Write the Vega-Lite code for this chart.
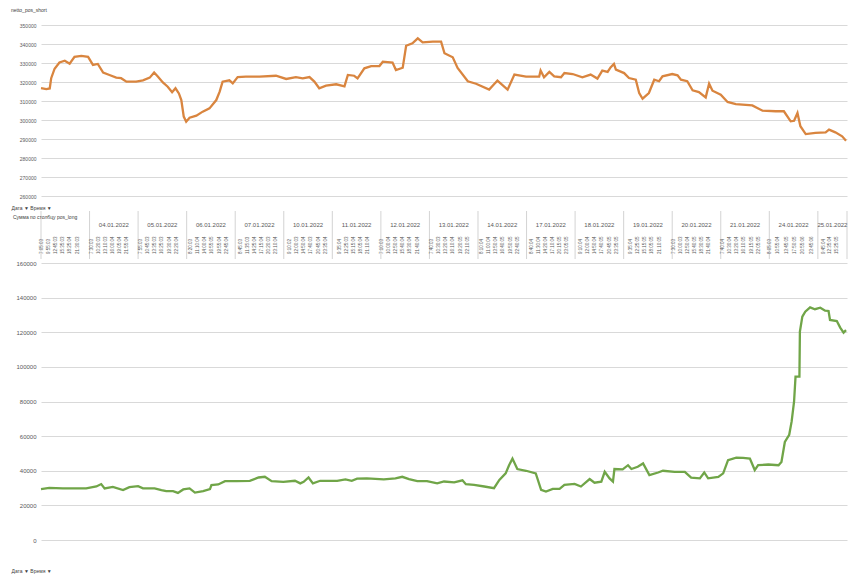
{
  "$schema": "https://vega.github.io/schema/vega-lite/v6.json",
  "background": "white",
  "padding": {"left": 11, "top": 8, "right": 0, "bottom": 0},
  "spacing": 0,
  "config": {
    "view": {"stroke": null},
    "font": "Liberation Sans",
    "axis": {"labelColor": "#595959", "gridColor": "#d9d9d9", "gridWidth": 1, "domain": false, "ticks": false, "labelFont": "Liberation Sans", "titleFont": "Liberation Sans", "titleColor": "#404040"},
    "title": {"font": "Liberation Sans", "fontWeight": "normal", "color": "#404040"}
  },
  "datasets": {
    "short": [
      {"t": 0.0, "v": 316800}, {"t": 0.11, "v": 316300}, {"t": 0.18, "v": 316600}, {"t": 0.21, "v": 322000},
      {"t": 0.28, "v": 327000}, {"t": 0.38, "v": 330300}, {"t": 0.49, "v": 331200}, {"t": 0.59, "v": 329600},
      {"t": 0.69, "v": 333200}, {"t": 0.83, "v": 333700}, {"t": 0.97, "v": 333200}, {"t": 1.07, "v": 329000},
      {"t": 1.17, "v": 329500}, {"t": 1.28, "v": 325000}, {"t": 1.41, "v": 323700}, {"t": 1.55, "v": 322300},
      {"t": 1.65, "v": 322000}, {"t": 1.76, "v": 320200}, {"t": 1.96, "v": 320200}, {"t": 2.10, "v": 320900},
      {"t": 2.24, "v": 322300}, {"t": 2.33, "v": 325000}, {"t": 2.41, "v": 322800}, {"t": 2.51, "v": 319800},
      {"t": 2.61, "v": 317500}, {"t": 2.70, "v": 314600}, {"t": 2.77, "v": 316700}, {"t": 2.84, "v": 314000},
      {"t": 2.89, "v": 310500}, {"t": 2.94, "v": 301800}, {"t": 2.99, "v": 299100}, {"t": 3.06, "v": 301200},
      {"t": 3.20, "v": 302300}, {"t": 3.33, "v": 304400}, {"t": 3.47, "v": 306100}, {"t": 3.61, "v": 310500},
      {"t": 3.68, "v": 314900}, {"t": 3.74, "v": 320200}, {"t": 3.88, "v": 320900}, {"t": 3.95, "v": 319300},
      {"t": 4.05, "v": 322600}, {"t": 4.22, "v": 322800}, {"t": 4.50, "v": 322800}, {"t": 4.84, "v": 323300},
      {"t": 5.05, "v": 321600}, {"t": 5.25, "v": 322600}, {"t": 5.39, "v": 321900}, {"t": 5.53, "v": 322600},
      {"t": 5.63, "v": 320200}, {"t": 5.73, "v": 316700}, {"t": 5.87, "v": 318100}, {"t": 6.08, "v": 318800},
      {"t": 6.25, "v": 317700}, {"t": 6.32, "v": 323700}, {"t": 6.45, "v": 323300}, {"t": 6.52, "v": 321900},
      {"t": 6.66, "v": 327200}, {"t": 6.80, "v": 328400}, {"t": 6.97, "v": 328400}, {"t": 7.04, "v": 330700},
      {"t": 7.24, "v": 330200}, {"t": 7.31, "v": 326300}, {"t": 7.45, "v": 327500}, {"t": 7.52, "v": 339100},
      {"t": 7.65, "v": 340400}, {"t": 7.76, "v": 343000}, {"t": 7.86, "v": 340900}, {"t": 8.07, "v": 341200},
      {"t": 8.24, "v": 341200}, {"t": 8.31, "v": 335100}, {"t": 8.48, "v": 333000}, {"t": 8.58, "v": 327400},
      {"t": 8.79, "v": 320400}, {"t": 8.96, "v": 319100}, {"t": 9.23, "v": 316000}, {"t": 9.34, "v": 319100},
      {"t": 9.40, "v": 320700}, {"t": 9.61, "v": 316000}, {"t": 9.75, "v": 323900}, {"t": 9.99, "v": 322800},
      {"t": 10.26, "v": 322800}, {"t": 10.29, "v": 326000}, {"t": 10.36, "v": 322500}, {"t": 10.47, "v": 325300},
      {"t": 10.57, "v": 323000}, {"t": 10.71, "v": 322500}, {"t": 10.78, "v": 324700}, {"t": 10.95, "v": 324200},
      {"t": 11.15, "v": 322500}, {"t": 11.32, "v": 323900}, {"t": 11.46, "v": 321800}, {"t": 11.56, "v": 326000},
      {"t": 11.67, "v": 325300}, {"t": 11.73, "v": 327700}, {"t": 11.80, "v": 329500}, {"t": 11.84, "v": 326500},
      {"t": 12.01, "v": 324700}, {"t": 12.11, "v": 322100}, {"t": 12.25, "v": 321200}, {"t": 12.32, "v": 314200},
      {"t": 12.39, "v": 311200}, {"t": 12.52, "v": 314200}, {"t": 12.63, "v": 321200}, {"t": 12.73, "v": 320400},
      {"t": 12.80, "v": 323000}, {"t": 13.00, "v": 324200}, {"t": 13.11, "v": 323500}, {"t": 13.18, "v": 321200},
      {"t": 13.31, "v": 320400}, {"t": 13.42, "v": 315600}, {"t": 13.55, "v": 314700}, {"t": 13.69, "v": 311900},
      {"t": 13.76, "v": 319100}, {"t": 13.83, "v": 315400}, {"t": 14.00, "v": 313300}, {"t": 14.14, "v": 309500},
      {"t": 14.31, "v": 308400}, {"t": 14.65, "v": 307700}, {"t": 14.86, "v": 304900}, {"t": 15.13, "v": 304600},
      {"t": 15.30, "v": 304600}, {"t": 15.44, "v": 299300}, {"t": 15.51, "v": 299600}, {"t": 15.58, "v": 303700},
      {"t": 15.64, "v": 296700}, {"t": 15.75, "v": 292600}, {"t": 15.95, "v": 293200}, {"t": 16.16, "v": 293500},
      {"t": 16.23, "v": 294900}, {"t": 16.36, "v": 293500}, {"t": 16.50, "v": 291400}, {"t": 16.58, "v": 289100}
    ],
    "long": [
      {"t": 0.00, "v": 29400}, {"t": 0.17, "v": 30100}, {"t": 0.45, "v": 29800}, {"t": 0.93, "v": 29800},
      {"t": 1.14, "v": 30900}, {"t": 1.24, "v": 32300}, {"t": 1.31, "v": 29800}, {"t": 1.48, "v": 30700},
      {"t": 1.69, "v": 28800}, {"t": 1.82, "v": 30500}, {"t": 2.00, "v": 31100}, {"t": 2.10, "v": 29800},
      {"t": 2.34, "v": 29800}, {"t": 2.48, "v": 28800}, {"t": 2.58, "v": 28200}, {"t": 2.72, "v": 28200},
      {"t": 2.82, "v": 27200}, {"t": 2.93, "v": 29200}, {"t": 3.06, "v": 29800}, {"t": 3.17, "v": 27400},
      {"t": 3.34, "v": 28200}, {"t": 3.48, "v": 29400}, {"t": 3.51, "v": 31700}, {"t": 3.65, "v": 32100},
      {"t": 3.79, "v": 34000}, {"t": 4.03, "v": 34000}, {"t": 4.30, "v": 34200}, {"t": 4.48, "v": 36100},
      {"t": 4.61, "v": 36500}, {"t": 4.75, "v": 34000}, {"t": 4.99, "v": 33600}, {"t": 5.23, "v": 34200},
      {"t": 5.34, "v": 32700}, {"t": 5.41, "v": 33600}, {"t": 5.51, "v": 36100}, {"t": 5.60, "v": 32700},
      {"t": 5.75, "v": 34200}, {"t": 6.10, "v": 34200}, {"t": 6.27, "v": 35000}, {"t": 6.40, "v": 34200},
      {"t": 6.51, "v": 35400}, {"t": 6.71, "v": 35600}, {"t": 7.06, "v": 35000}, {"t": 7.30, "v": 35600},
      {"t": 7.44, "v": 36500}, {"t": 7.58, "v": 35200}, {"t": 7.75, "v": 34000}, {"t": 7.95, "v": 34000},
      {"t": 8.16, "v": 32700}, {"t": 8.30, "v": 33800}, {"t": 8.51, "v": 33300}, {"t": 8.68, "v": 34500},
      {"t": 8.75, "v": 32200}, {"t": 8.92, "v": 31800}, {"t": 9.13, "v": 30900}, {"t": 9.33, "v": 29900},
      {"t": 9.44, "v": 34700}, {"t": 9.57, "v": 38500}, {"t": 9.64, "v": 43200}, {"t": 9.71, "v": 47000},
      {"t": 9.81, "v": 41000}, {"t": 9.99, "v": 40000}, {"t": 10.19, "v": 38500}, {"t": 10.30, "v": 29000},
      {"t": 10.40, "v": 28000}, {"t": 10.54, "v": 29500}, {"t": 10.68, "v": 29500}, {"t": 10.78, "v": 31800},
      {"t": 10.99, "v": 32400}, {"t": 11.12, "v": 30900}, {"t": 11.30, "v": 35200}, {"t": 11.40, "v": 33100},
      {"t": 11.54, "v": 33700}, {"t": 11.61, "v": 39400}, {"t": 11.71, "v": 35600}, {"t": 11.78, "v": 33700},
      {"t": 11.81, "v": 41000}, {"t": 11.98, "v": 40800}, {"t": 12.09, "v": 43200}, {"t": 12.16, "v": 41000},
      {"t": 12.29, "v": 42300}, {"t": 12.40, "v": 44200}, {"t": 12.53, "v": 37500}, {"t": 12.71, "v": 39000},
      {"t": 12.81, "v": 40000}, {"t": 13.05, "v": 39400}, {"t": 13.26, "v": 39400}, {"t": 13.39, "v": 36000},
      {"t": 13.57, "v": 35600}, {"t": 13.66, "v": 39000}, {"t": 13.74, "v": 35600}, {"t": 13.95, "v": 36400},
      {"t": 14.05, "v": 38500}, {"t": 14.15, "v": 46100}, {"t": 14.32, "v": 47600}, {"t": 14.46, "v": 47400},
      {"t": 14.60, "v": 47000}, {"t": 14.70, "v": 40400}, {"t": 14.77, "v": 43200}, {"t": 14.98, "v": 43600},
      {"t": 15.19, "v": 43200}, {"t": 15.25, "v": 45100}, {"t": 15.32, "v": 56600}, {"t": 15.41, "v": 60800},
      {"t": 15.46, "v": 68500}, {"t": 15.51, "v": 80000}, {"t": 15.54, "v": 94400}, {"t": 15.62, "v": 94400},
      {"t": 15.63, "v": 120400}, {"t": 15.68, "v": 129000}, {"t": 15.74, "v": 131900}, {"t": 15.84, "v": 134400},
      {"t": 15.94, "v": 133300}, {"t": 16.05, "v": 134200}, {"t": 16.15, "v": 132500}, {"t": 16.22, "v": 132300},
      {"t": 16.25, "v": 127100}, {"t": 16.39, "v": 126500}, {"t": 16.46, "v": 122700}, {"t": 16.53, "v": 119800},
      {"t": 16.58, "v": 121200}
    ],
    "days": [
      {"t": 0}, {"t": 1}, {"t": 2}, {"t": 3}, {"t": 4}, {"t": 5}, {"t": 6}, {"t": 7}, {"t": 8},
      {"t": 9}, {"t": 10}, {"t": 11}, {"t": 12}, {"t": 13}, {"t": 14}, {"t": 15}, {"t": 16}, {"t": 16.6}
    ],
    "dates": [
      {"t": 1.5, "row": "date", "date": "04.01.2022"}, {"t": 2.5, "row": "date", "date": "05.01.2022"},
      {"t": 3.5, "row": "date", "date": "06.01.2022"}, {"t": 4.5, "row": "date", "date": "07.01.2022"},
      {"t": 5.5, "row": "date", "date": "10.01.2022"}, {"t": 6.5, "row": "date", "date": "11.01.2022"},
      {"t": 7.5, "row": "date", "date": "12.01.2022"}, {"t": 8.5, "row": "date", "date": "13.01.2022"},
      {"t": 9.5, "row": "date", "date": "14.01.2022"}, {"t": 10.5, "row": "date", "date": "17.01.2022"},
      {"t": 11.5, "row": "date", "date": "18.01.2022"}, {"t": 12.5, "row": "date", "date": "19.01.2022"},
      {"t": 13.5, "row": "date", "date": "20.01.2022"}, {"t": 14.5, "row": "date", "date": "21.01.2022"},
      {"t": 15.5, "row": "date", "date": "24.01.2022"}, {"t": 16.3, "row": "date", "date": "25.01.2022"}
    ],
    "times": [
      {"t": 0.024, "row": "time", "time": "7:05:03"}, {"t": 0.169, "row": "time", "time": "9:55:03"},
      {"t": 0.313, "row": "time", "time": "12:45:03"}, {"t": 0.458, "row": "time", "time": "15:35:03"},
      {"t": 0.602, "row": "time", "time": "18:25:04"}, {"t": 0.760, "row": "time", "time": "21:30:03"},
      {"t": 1.046, "row": "time", "time": "7:30:03"}, {"t": 1.190, "row": "time", "time": "10:20:03"},
      {"t": 1.335, "row": "time", "time": "13:10:03"}, {"t": 1.479, "row": "time", "time": "16:00:04"},
      {"t": 1.636, "row": "time", "time": "19:05:04"}, {"t": 1.781, "row": "time", "time": "21:55:04"},
      {"t": 2.067, "row": "time", "time": "7:55:03"}, {"t": 2.211, "row": "time", "time": "10:45:03"},
      {"t": 2.356, "row": "time", "time": "13:35:03"}, {"t": 2.500, "row": "time", "time": "16:25:03"},
      {"t": 2.658, "row": "time", "time": "19:30:04"}, {"t": 2.802, "row": "time", "time": "22:20:04"},
      {"t": 3.088, "row": "time", "time": "8:20:03"}, {"t": 3.233, "row": "time", "time": "11:10:04"},
      {"t": 3.377, "row": "time", "time": "14:00:04"}, {"t": 3.526, "row": "time", "time": "16:55:05"},
      {"t": 3.679, "row": "time", "time": "19:55:04"}, {"t": 3.823, "row": "time", "time": "22:45:04"},
      {"t": 4.109, "row": "time", "time": "8:45:03"}, {"t": 4.254, "row": "time", "time": "11:35:03"},
      {"t": 4.398, "row": "time", "time": "14:25:04"}, {"t": 4.543, "row": "time", "time": "17:15:04"},
      {"t": 4.700, "row": "time", "time": "20:20:03"}, {"t": 4.845, "row": "time", "time": "23:10:04"},
      {"t": 5.131, "row": "time", "time": "9:10:02"}, {"t": 5.275, "row": "time", "time": "12:00:03"},
      {"t": 5.420, "row": "time", "time": "14:50:04"}, {"t": 5.564, "row": "time", "time": "17:40:03"},
      {"t": 5.721, "row": "time", "time": "20:45:04"}, {"t": 5.866, "row": "time", "time": "23:35:04"},
      {"t": 6.152, "row": "time", "time": "9:35:04"}, {"t": 6.296, "row": "time", "time": "12:25:03"},
      {"t": 6.441, "row": "time", "time": "15:15:04"}, {"t": 6.585, "row": "time", "time": "18:05:04"},
      {"t": 6.743, "row": "time", "time": "21:10:04"},
      {"t": 7.029, "row": "time", "time": "7:10:03"}, {"t": 7.173, "row": "time", "time": "10:00:04"},
      {"t": 7.318, "row": "time", "time": "12:50:04"}, {"t": 7.462, "row": "time", "time": "15:40:04"},
      {"t": 7.607, "row": "time", "time": "18:30:04"}, {"t": 7.768, "row": "time", "time": "21:40:04"},
      {"t": 8.054, "row": "time", "time": "7:40:03"}, {"t": 8.199, "row": "time", "time": "10:30:03"},
      {"t": 8.343, "row": "time", "time": "13:20:04"}, {"t": 8.488, "row": "time", "time": "16:10:04"},
      {"t": 8.649, "row": "time", "time": "19:20:05"}, {"t": 8.794, "row": "time", "time": "22:10:05"},
      {"t": 9.080, "row": "time", "time": "8:10:04"}, {"t": 9.224, "row": "time", "time": "11:00:04"},
      {"t": 9.369, "row": "time", "time": "13:50:04"}, {"t": 9.513, "row": "time", "time": "16:40:05"},
      {"t": 9.675, "row": "time", "time": "19:50:05"}, {"t": 9.819, "row": "time", "time": "22:40:05"},
      {"t": 10.105, "row": "time", "time": "8:40:04"}, {"t": 10.250, "row": "time", "time": "11:30:04"},
      {"t": 10.394, "row": "time", "time": "14:20:04"}, {"t": 10.539, "row": "time", "time": "17:10:04"},
      {"t": 10.696, "row": "time", "time": "20:15:05"}, {"t": 10.840, "row": "time", "time": "23:05:05"},
      {"t": 11.131, "row": "time", "time": "9:10:04"}, {"t": 11.275, "row": "time", "time": "12:00:04"},
      {"t": 11.420, "row": "time", "time": "14:50:04"}, {"t": 11.564, "row": "time", "time": "17:40:05"},
      {"t": 11.721, "row": "time", "time": "20:45:05"}, {"t": 11.866, "row": "time", "time": "23:35:05"},
      {"t": 12.152, "row": "time", "time": "9:35:04"}, {"t": 12.296, "row": "time", "time": "12:25:05"},
      {"t": 12.441, "row": "time", "time": "15:15:05"}, {"t": 12.585, "row": "time", "time": "18:05:05"},
      {"t": 12.743, "row": "time", "time": "21:10:05"},
      {"t": 13.046, "row": "time", "time": "7:30:03"}, {"t": 13.173, "row": "time", "time": "10:00:03"},
      {"t": 13.318, "row": "time", "time": "12:50:04"}, {"t": 13.462, "row": "time", "time": "15:40:05"},
      {"t": 13.607, "row": "time", "time": "18:30:05"}, {"t": 13.768, "row": "time", "time": "21:40:04"},
      {"t": 14.054, "row": "time", "time": "7:40:04"}, {"t": 14.199, "row": "time", "time": "10:30:04"},
      {"t": 14.343, "row": "time", "time": "13:20:04"}, {"t": 14.488, "row": "time", "time": "16:10:05"},
      {"t": 14.645, "row": "time", "time": "19:15:05"}, {"t": 14.789, "row": "time", "time": "22:05:05"},
      {"t": 15.014, "row": "time", "time": "8:05:03"}, {"t": 15.186, "row": "time", "time": "10:55:04"},
      {"t": 15.357, "row": "time", "time": "13:45:05"}, {"t": 15.530, "row": "time", "time": "17:50:05"},
      {"t": 15.700, "row": "time", "time": "20:55:06"}, {"t": 15.874, "row": "time", "time": "23:45:06"},
      {"t": 16.120, "row": "time", "time": "9:45:04"}, {"t": 16.250, "row": "time", "time": "12:35:04"},
      {"t": 16.390, "row": "time", "time": "15:25:05"}
    ]
  },
  "vconcat": [
    {
      "width": 806,
      "height": 171,
      "title": {"text": "netto_pos_short", "anchor": "start", "frame": "bounds", "fontSize": 5, "offset": 10},
      "data": {"name": "short"},
      "mark": {"type": "line", "color": "#D9853F", "strokeWidth": 2.3},
      "encoding": {
        "x": {
          "field": "t", "type": "quantitative",
          "scale": {"domain": [0, 16.6], "nice": false, "zero": false},
          "axis": {"title": "Дата ▼   Время ▼", "labels": false, "grid": false, "titleAnchor": "start", "titleAlign": "left", "titleX": -30, "titleFontSize": 5, "titleFontWeight": "normal", "titlePadding": 9}
        },
        "y": {
          "field": "v", "type": "quantitative",
          "scale": {"domain": [260000, 350000], "nice": false, "zero": false},
          "axis": {"title": null, "values": [260000, 270000, 280000, 290000, 300000, 310000, 320000, 330000, 340000, 350000], "format": "d", "labelFontSize": 5, "labelPadding": 5}
        }
      }
    },
    {
      "width": 806,
      "height": 48,
      "title": {"text": "Сумма по столбцу pos_long", "anchor": "start", "frame": "group", "fontSize": 5, "offset": -11, "baseline": "middle", "dx": -28},
      "layer": [
        {
          "data": {"name": "days"},
          "mark": {"type": "rule", "color": "#c8c8c8", "strokeWidth": 0.8},
          "encoding": {
            "x": {"field": "t", "type": "quantitative", "scale": {"domain": [0, 16.6], "nice": false, "zero": false}, "axis": null}
          }
        },
        {
          "data": {"name": "dates"},
          "mark": {"type": "text", "fontSize": 6, "color": "#595959", "baseline": "middle"},
          "encoding": {
            "x": {"field": "t", "type": "quantitative"},
            "y": {"field": "row", "type": "nominal", "scale": {"type": "point", "domain": ["date", "time"], "padding": 0.3276, "align": 0.737}, "axis": null},
            "text": {"field": "date"}
          }
        },
        {
          "data": {"name": "times"},
          "mark": {"type": "text", "fontSize": 4.5, "angle": 270, "align": "left", "baseline": "middle", "color": "#595959"},
          "encoding": {
            "x": {"field": "t", "type": "quantitative"},
            "y": {"field": "row", "type": "nominal"},
            "text": {"field": "time"}
          }
        }
      ]
    },
    {
      "width": 806,
      "height": 277,
      "data": {"name": "long"},
      "mark": {"type": "line", "color": "#70A548", "strokeWidth": 2.3},
      "encoding": {
        "x": {
          "field": "t", "type": "quantitative",
          "scale": {"domain": [0, 16.6], "nice": false, "zero": false},
          "axis": {"title": "Дата ▼   Время ▼", "labels": false, "grid": false, "titleAnchor": "start", "titleAlign": "left", "titleX": -30, "titleFontSize": 5, "titleFontWeight": "normal", "titlePadding": 28.5}
        },
        "y": {
          "field": "v", "type": "quantitative",
          "scale": {"domain": [0, 160000], "nice": false, "zero": false},
          "axis": {"title": null, "values": [0, 20000, 40000, 60000, 80000, 100000, 120000, 140000, 160000], "format": "d", "labelFontSize": 6, "labelPadding": 5}
        }
      }
    }
  ]
}
